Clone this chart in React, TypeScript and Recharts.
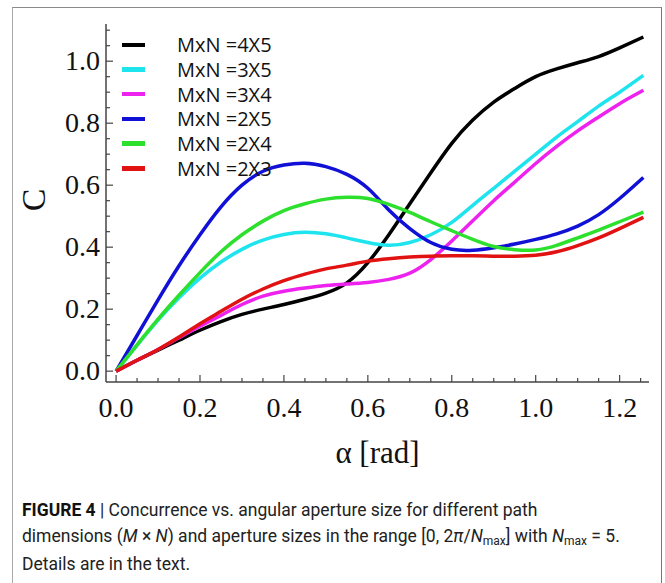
import { LineChart, Line, XAxis, YAxis, Legend, Label } from "recharts";

// aperture size alpha [rad], 0 .. 2pi/5
const alpha = [
  0, 0.05, 0.1, 0.15, 0.2, 0.25, 0.3, 0.35, 0.4, 0.45, 0.5, 0.55, 0.6, 0.65, 0.7, 0.75, 0.8, 0.85,
  0.9, 0.95, 1.0, 1.05, 1.1, 1.15, 1.2, 1.2566,
];

const c4x5 = [
  0, 0.035, 0.068, 0.1, 0.132, 0.16, 0.183, 0.2, 0.215, 0.232, 0.252, 0.285, 0.35, 0.44, 0.54,
  0.64, 0.735, 0.81, 0.868, 0.912, 0.95, 0.975, 0.995, 1.015, 1.043, 1.078,
];
const c3x5 = [
  0, 0.084, 0.165, 0.237, 0.3, 0.352, 0.393, 0.423, 0.441, 0.448, 0.443, 0.43, 0.415, 0.406, 0.415,
  0.44, 0.48, 0.535, 0.59, 0.645, 0.7, 0.755, 0.805, 0.855, 0.9, 0.954,
];
const c3x4 = [
  0, 0.035, 0.07, 0.108, 0.145, 0.18, 0.215, 0.242, 0.258, 0.268, 0.276, 0.281, 0.286, 0.296, 0.316,
  0.36, 0.42, 0.485, 0.55, 0.61, 0.67, 0.725, 0.775, 0.82, 0.863, 0.906,
];
const c2x5 = [
  0, 0.115, 0.23, 0.34, 0.44, 0.53, 0.6, 0.645, 0.665, 0.671, 0.66, 0.635, 0.59, 0.52, 0.46, 0.415,
  0.393, 0.39, 0.398, 0.41, 0.425, 0.443, 0.468, 0.505, 0.557, 0.625,
];
const c2x4 = [
  0, 0.085, 0.168, 0.245, 0.318, 0.385, 0.44, 0.484, 0.518, 0.54, 0.555, 0.561, 0.557, 0.538, 0.512,
  0.482, 0.453, 0.425, 0.402, 0.392, 0.391, 0.406, 0.43, 0.455, 0.482, 0.513,
];
const c2x3 = [
  0, 0.035, 0.07, 0.11, 0.153, 0.193, 0.232, 0.265, 0.292, 0.313, 0.33, 0.342, 0.355, 0.363, 0.368,
  0.371, 0.372, 0.372, 0.371, 0.371, 0.374, 0.385, 0.405, 0.43, 0.46, 0.496,
];

const xTicks = [
  0, 0.05, 0.1, 0.15, 0.2, 0.25, 0.3, 0.35, 0.4, 0.45, 0.5, 0.55, 0.6, 0.65, 0.7, 0.75, 0.8, 0.85,
  0.9, 0.95, 1.0, 1.05, 1.1, 1.15, 1.2, 1.25,
];
const yTicks = [
  0, 0.05, 0.1, 0.15, 0.2, 0.25, 0.3, 0.35, 0.4, 0.45, 0.5, 0.55, 0.6, 0.65, 0.7, 0.75, 0.8, 0.85,
  0.9, 0.95, 1.0, 1.05, 1.1,
];

const series = [
  { key: "s4x5", name: "MxN =4X5", color: "#000000", values: c4x5 },
  { key: "s3x5", name: "MxN =3X5", color: "#1ee4ee", values: c3x5 },
  { key: "s3x4", name: "MxN =3X4", color: "#ee22ee", values: c3x4 },
  { key: "s2x5", name: "MxN =2X5", color: "#1010d6", values: c2x5 },
  { key: "s2x4", name: "MxN =2X4", color: "#2ee02e", values: c2x4 },
  { key: "s2x3", name: "MxN =2X3", color: "#e01212", values: c2x3 },
];

const data = alpha.map((a, i) => {
  const row: Record<string, number> = { a };
  series.forEach((s) => (row[s.key] = s.values[i]));
  return row;
});

const serif = "'Liberation Serif', 'DejaVu Serif', serif";
const axisColor = "#444";
const isMajor = (v: number) => Math.abs(v * 5 - Math.round(v * 5)) < 1e-6;

const BottomTick = (p: any) => {
  const v = p.payload.value;
  const big = isMajor(v);
  return (
    <g>
      <line x1={p.x} x2={p.x} y1={p.y} y2={p.y - (big ? 7 : 4)} stroke={axisColor} strokeWidth={1.2} />
      {big && (
        <text x={p.x} y={p.y + 35} textAnchor="middle" fontFamily={serif} fontSize={28} fill="#111">
          {v.toFixed(1)}
        </text>
      )}
    </g>
  );
};
const TopTick = (p: any) => {
  const big = isMajor(p.payload.value);
  return <line x1={p.x} x2={p.x} y1={p.y} y2={p.y + (big ? 7 : 4)} stroke={axisColor} strokeWidth={1.2} />;
};
const LeftTick = (p: any) => {
  const v = p.payload.value;
  const big = isMajor(v);
  return (
    <g>
      <line x1={p.x} x2={p.x + (big ? 7 : 4)} y1={p.y} y2={p.y} stroke={axisColor} strokeWidth={1.2} />
      {big && (
        <text x={p.x - 6} y={p.y + 9} textAnchor="end" fontFamily={serif} fontSize={28} fill="#111">
          {v.toFixed(1)}
        </text>
      )}
    </g>
  );
};
const RightTick = (p: any) => {
  const big = isMajor(p.payload.value);
  return <line x1={p.x} x2={p.x - (big ? 7 : 4)} y1={p.y} y2={p.y} stroke={axisColor} strokeWidth={1.2} />;
};

const renderLegend = () => (
  <div>
    {series.map((s) => (
      <div key={s.key} style={{ display: "flex", alignItems: "center", height: 24.7 }}>
        <div style={{ width: 23, height: 4.5, background: s.color }} />
        <span
          style={{
            marginLeft: 32,
            fontFamily: "'Open Sans', sans-serif",
            fontSize: 20,
            color: "#111",
            whiteSpace: "nowrap",
          }}
        >
          {s.name}
        </span>
      </div>
    ))}
  </div>
);

const subStyle = { fontSize: 12, position: "relative" as const, top: 3, verticalAlign: "baseline" };

export default function App() {
  return (
    <div style={{ position: "absolute", left: 0, top: 0, width: 665, height: 583, background: "#fff" }}>
      <div
        style={{
          position: "absolute",
          left: 12,
          top: 7,
          width: 648,
          height: 590,
          borderLeft: "1.5px solid #a9a9a9",
          borderTop: "1.5px solid #8a8a8a",
          borderRight: "1.5px solid #777",
        }}
      />
      <div style={{ position: "absolute", left: 0, top: 0 }}>
        <LineChart width={665} height={480} data={data} margin={{ top: 24, right: 16, left: 0, bottom: 0 }}>
          <XAxis
            dataKey="a"
            type="number"
            domain={[-0.024, 1.27]}
            ticks={xTicks}
            interval={0}
            height={98}
            tickSize={0}
            tickMargin={0}
            tickLine={false}
            axisLine={{ stroke: axisColor, strokeWidth: 1.5 }}
            tick={<BottomTick />}
          >
            <Label
              content={({ viewBox }: any) => (
                <text
                  x={viewBox.x + viewBox.width / 2}
                  y={viewBox.y + 81}
                  textAnchor="middle"
                  fontFamily={serif}
                  fontSize={31}
                  fill="#111"
                >
                  α [rad]
                </text>
              )}
            />
          </XAxis>
          <XAxis
            xAxisId="top"
            orientation="top"
            dataKey="a"
            type="number"
            domain={[-0.024, 1.27]}
            ticks={xTicks}
            interval={0}
            height={0}
            tickSize={0}
            tickMargin={0}
            tickLine={false}
            axisLine={{ stroke: axisColor, strokeWidth: 1.5 }}
            tick={<TopTick />}
          />
          <YAxis
            type="number"
            domain={[-0.035, 1.12]}
            ticks={yTicks}
            interval={0}
            width={106}
            tickSize={0}
            tickMargin={0}
            tickLine={false}
            axisLine={{ stroke: axisColor, strokeWidth: 1.5 }}
            tick={<LeftTick />}
          >
            <Label
              content={({ viewBox }: any) => {
                const cx = 33;
                const cy = viewBox.y + viewBox.height / 2 - 3;
                return (
                  <text
                    x={cx}
                    y={cy}
                    transform={`rotate(-90 ${cx} ${cy})`}
                    textAnchor="middle"
                    dominantBaseline="central"
                    fontFamily={serif}
                    fontSize={34}
                    fill="#111"
                  >
                    C
                  </text>
                );
              }}
            />
          </YAxis>
          <YAxis
            yAxisId="right"
            orientation="right"
            type="number"
            domain={[-0.035, 1.12]}
            ticks={yTicks}
            interval={0}
            width={0}
            tickSize={0}
            tickMargin={0}
            tickLine={false}
            axisLine={{ stroke: axisColor, strokeWidth: 1.5 }}
            tick={<RightTick />}
          />
          <Legend
            layout="vertical"
            align="center"
            verticalAlign="middle"
            content={renderLegend}
            wrapperStyle={{ left: 122, top: 32.5, width: 200 }}
          />
          {series.map((s) => (
            <Line
              key={s.key}
              dataKey={s.key}
              name={s.name}
              type="natural"
              stroke={s.color}
              strokeWidth={3.5}
              dot={false}
              isAnimationActive={false}
            />
          ))}
        </LineChart>
      </div>
      <div
        style={{
          position: "absolute",
          left: 22,
          top: 497,
          fontFamily: "'Liberation Sans Narrow', 'Roboto', sans-serif",
          fontSize: 17.5,
          lineHeight: "26px",
          color: "#222",
          whiteSpace: "nowrap",
        }}
      >
        <b style={{ color: "#111" }}>FIGURE 4</b> | Concurrence vs. angular aperture size for different path
        <br />
        dimensions (<i>M</i> × <i>N</i>) and aperture sizes in the range [0, 2<i>π</i>/<i>N</i>
        <span style={subStyle}>max</span>] with <i>N</i>
        <span style={subStyle}>max</span> = 5.
        <br />
        Details are in the text.
      </div>
    </div>
  );
}
